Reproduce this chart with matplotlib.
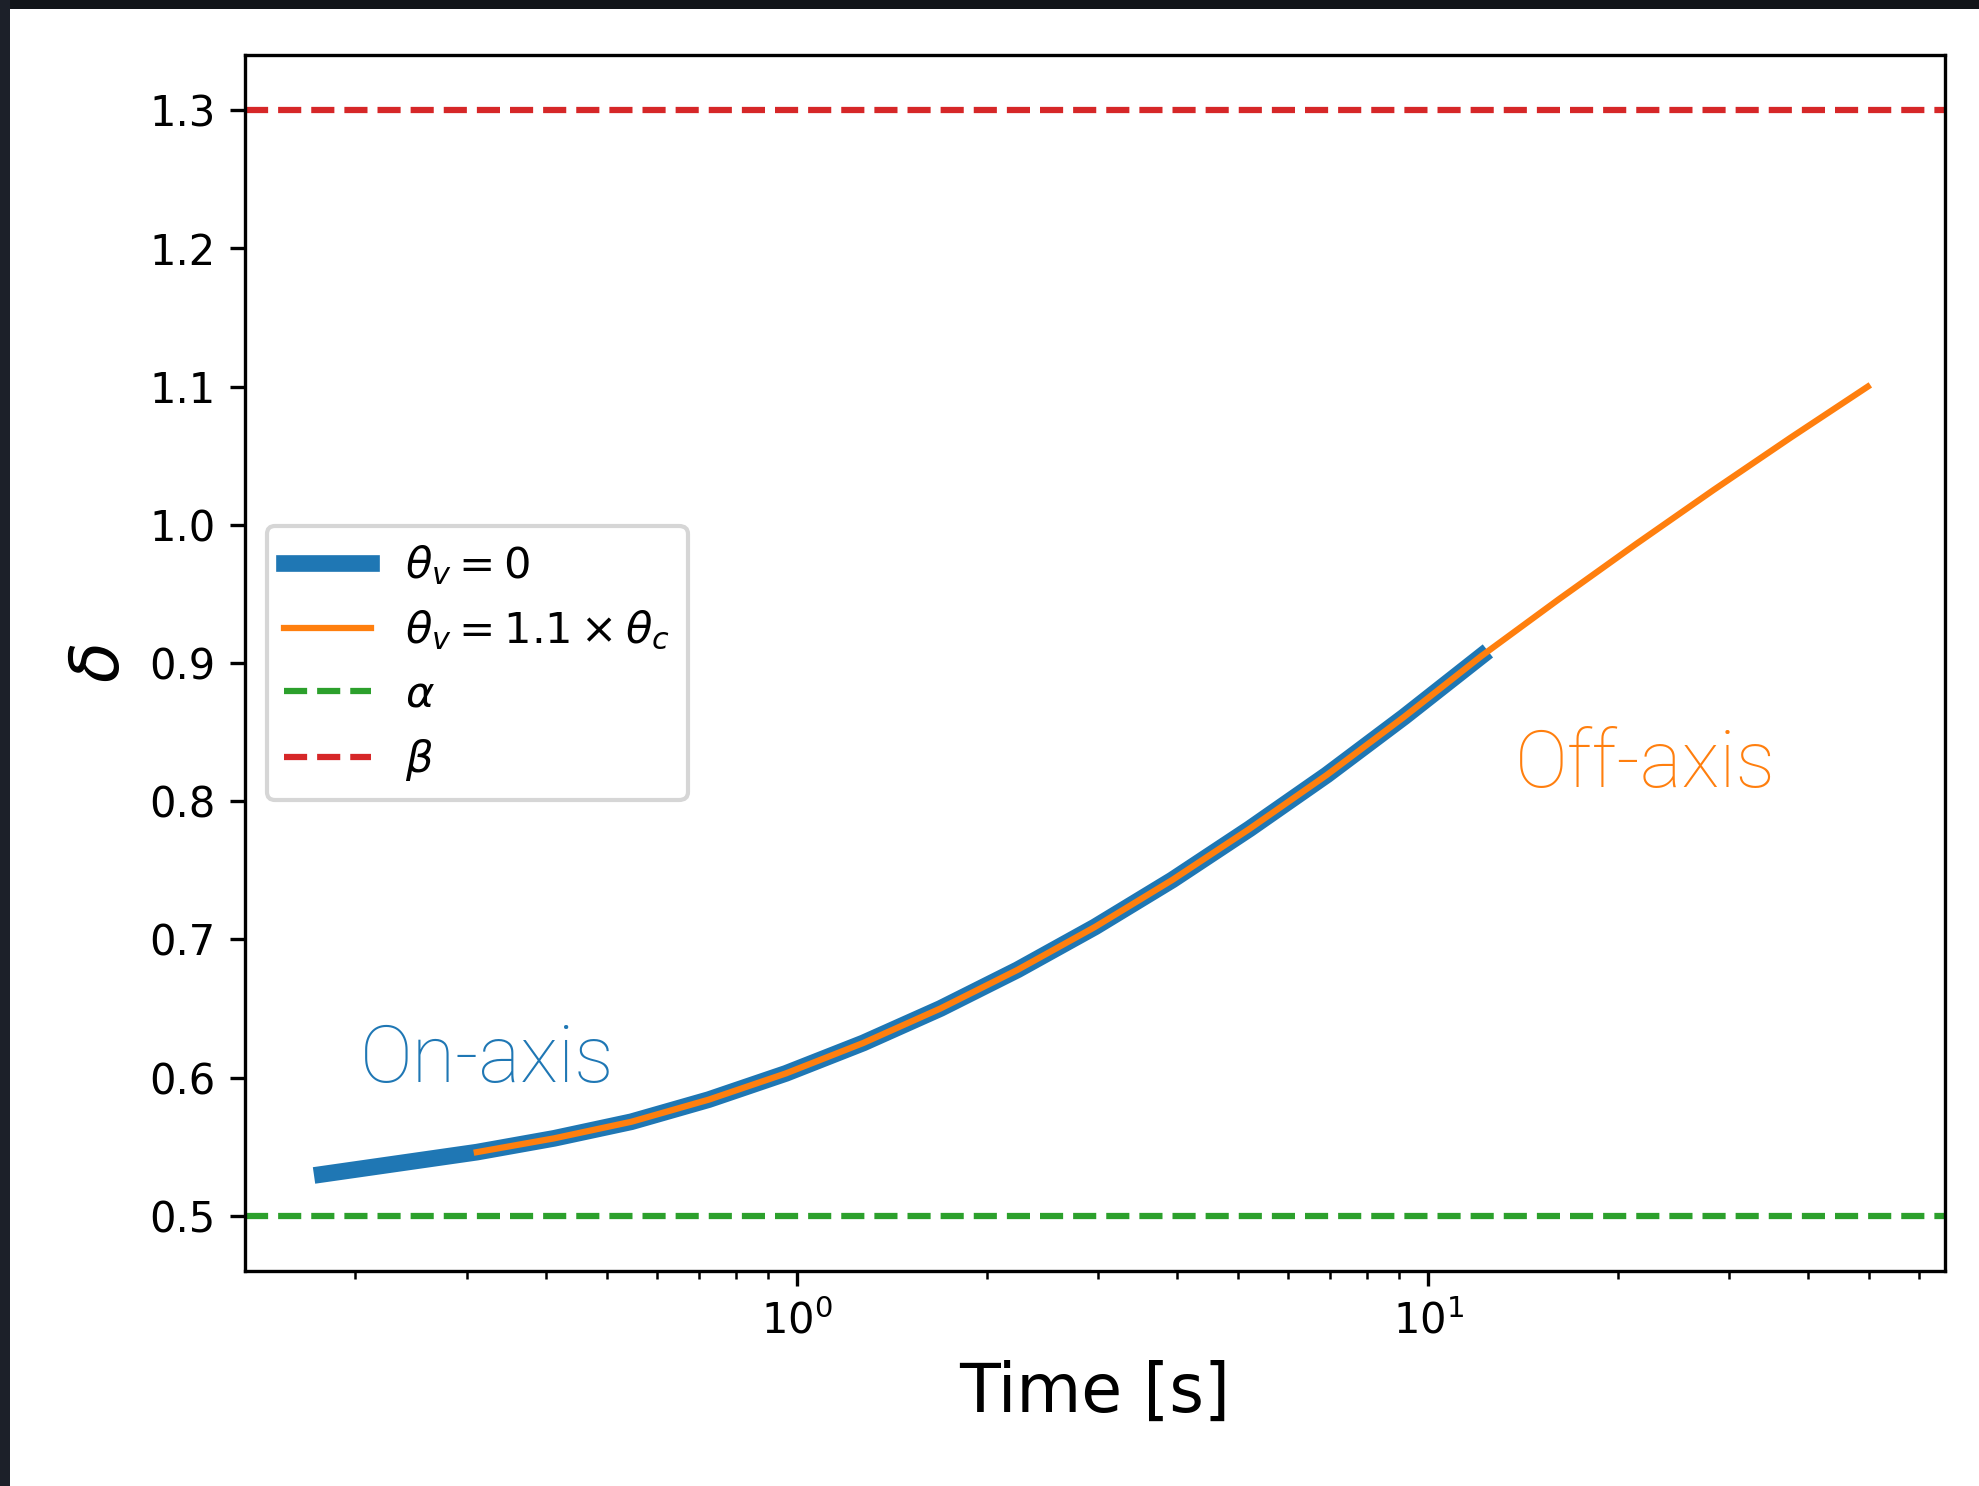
import numpy as np
import matplotlib
matplotlib.use("Agg")
import matplotlib.pyplot as plt
from matplotlib.patches import Rectangle

# Sample times [s] shared by both viewing angles
time_s = [0.1772, 0.2349, 0.3113, 0.4127, 0.5470, 0.7251, 0.9611, 1.274,
          1.689, 2.238, 2.967, 3.933, 5.213, 6.910, 9.159, 12.14,
          16.09, 21.33, 28.27, 37.48, 49.68]

# delta(t) along the curve
delta_vals = [0.530, 0.538, 0.546, 0.556, 0.568, 0.584, 0.603, 0.625,
              0.650, 0.678, 0.709, 0.743, 0.780, 0.819, 0.861, 0.905,
              0.946, 0.986, 1.025, 1.063, 1.100]

# on-axis run covers the first 16 samples, off-axis run starts at the 3rd
on_axis_t = time_s[:16]
on_axis_d = delta_vals[:16]
off_axis_t = time_s[2:]
off_axis_d = delta_vals[2:]

alpha_level = 0.5
beta_level = 1.3

W, H, DPI = 1979, 1486, 300
fig = plt.figure(figsize=(W / DPI, H / DPI), dpi=DPI)
fig.patch.set_facecolor("white")

ax = fig.add_axes([245 / W, 1 - 1271 / H, (1945 - 245) / W, (1271 - 55) / H])

ax.plot(on_axis_t, on_axis_d, color="C0", lw=4, label=r"$\theta_v = 0$")
ax.plot(off_axis_t, off_axis_d, color="C1", lw=1.5,
        label=r"$\theta_v = 1.1 \times \theta_c$")
ax.axhline(alpha_level, color="C2", ls="--", lw=1.5, label=r"$\alpha$")
ax.axhline(beta_level, color="C3", ls="--", lw=1.5, label=r"$\beta$")

ax.set_xscale("log")
ax.set_xlabel("Time [s]", fontsize=16)
ax.set_ylabel(r"$\delta$", fontsize=16)
ax.tick_params(labelsize=10)

ax.legend(loc="center left", fontsize=10.4)

ax.text(0.203, 0.5967, "On-axis", color="C0", fontsize=19,
        family="Roboto", weight="light", ha="left", va="baseline")
ax.text(13.7, 0.8102, "Off-axis", color="C1", fontsize=19,
        family="Roboto", weight="light", ha="left", va="baseline")

# dark window frame along the top and left edges
fig.patches.append(Rectangle((0, 1 - 9 / H), 1, 9 / H, transform=fig.transFigure,
                             facecolor="#121519", edgecolor="none", zorder=10))
fig.patches.append(Rectangle((0, 0), 10 / W, 1, transform=fig.transFigure,
                             facecolor="#1c2029", edgecolor="none", zorder=10))

fig.savefig("out.png", dpi=DPI)
